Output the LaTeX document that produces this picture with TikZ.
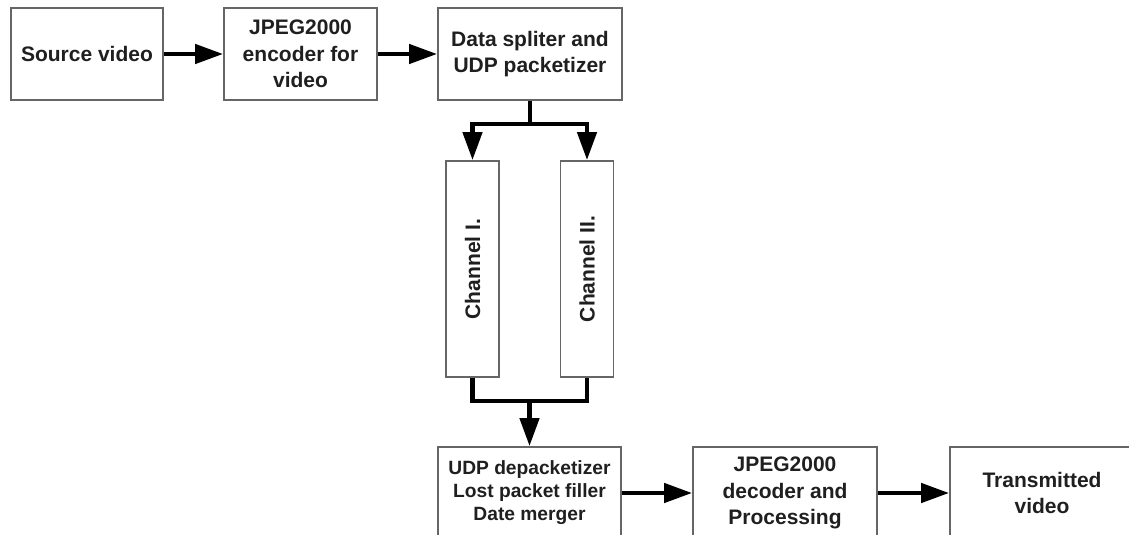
\documentclass[tikz,border=0pt]{standalone}
\usepackage{fontspec}
\setmainfont{Liberation Sans}
\usepackage{graphicx}
\usetikzlibrary{arrows.meta,positioning}

\begin{document}
\begin{tikzpicture}[
    x=1pt, y=-1pt,
    block/.style={draw=black!60, line width=1.8pt, minimum width=184pt, minimum height=92pt, inner sep=0pt, align=center, font=\fontsize{21}{26.5}\selectfont\bfseries, text=black!88},
    chan/.style={block, minimum width=53pt, minimum height=216pt},
    arrow/.style={-{Triangle[length=28pt, width=19pt]}, line width=4.5pt},
    wire/.style={line width=4.5pt},
  ]
  \fill[white, use as bounding box] (0,0) rectangle (1129,535);
  \clip (0,0) rectangle (1129,535);
  \node[block, minimum width=152pt] (src) at (87,54) {Source video};
  \node[block, minimum width=153pt, right=59.2pt of src] (enc) {JPEG2000\\encoder for\\video};
  \node[block, right=59.2pt of enc] (split) {Data spliter and\\UDP packetizer};
  \node[chan, below=59.2pt of split, xshift=-57.5pt] (ch1) {\rotatebox{90}{Channel I.}};
  \node[chan, below=59.2pt of split, xshift=57pt] (ch2) {\rotatebox{90}{Channel II.}};
  \node[block, minimum width=183pt, below=68.2pt of ch1, xshift=57pt, font=\fontsize{19.2}{23}\selectfont\bfseries] (depack) {UDP depacketizer\\Lost packet filler\\Date merger};
  \node[block, right=70.2pt of depack] (dec) {JPEG2000\\decoder and\\Processing};
  \node[block, right=71.2pt of dec] (out) {Transmitted\\video};
  \foreach \a/\b in {src/enc, enc/split, depack/dec, dec/out}
    \draw[arrow] (\a) -- (\b);
  % fork to the two channels
  \draw[arrow] (split.south) -- ++(0,23) -| (ch1.north);
  \draw[arrow] (split.south) -- ++(0,23) -| (ch2.north);
  % merge back
  \draw[wire] (ch1.south) -- ++(0,23) coordinate (merge) -| (ch2.south);
  \draw[arrow] (merge -| depack.north) -- (depack.north);
\end{tikzpicture}
\end{document}
